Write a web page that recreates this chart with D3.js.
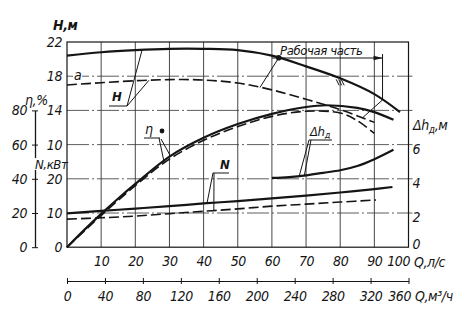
<!DOCTYPE html>
<html>
<head>
<meta charset="utf-8">
<script src="https://cdn.jsdelivr.net/npm/d3@7"></script>
<style>
  html, body { margin: 0; padding: 0; background: #fff; }
  svg text {
    font-family: "DejaVu Sans Condensed", "Liberation Sans Narrow", sans-serif;
    font-stretch: condensed;
    font-style: italic;
    letter-spacing: -0.4px;
    fill: #151515;
  }
</style>
</head>
<body>
<svg id="chart" width="467" height="329"></svg>
<script>
// Tick labels
const flowTicksLs = [10, 20, 30, 40, 50, 60, 70, 80, 90, 100];
const flowTicksM3h = [0, 40, 80, 120, 160, 200, 240, 280, 320, 360];
const headTicks = [22, 18, 14, 10];
const powerTicks = [20, 10, 0];
const effTicks = [0, 20, 40, 60, 80];
const npshTicks = [0, 2, 4, 6];

// Head H, m: full impeller (solid) and trimmed impeller "а" (dashed)
const qHead = [0, 10, 20, 30, 40, 50, 60, 70, 80, 90, 97.5];
const headFull = [20.4, 20.8, 21.05, 21.2, 21.2, 21.05, 20.4, 19.15, 17.75, 15.9, 13.8];
const qHeadTrim = [0, 10, 20, 30, 40, 50, 60, 70, 80, 90];
const headTrim = [16.97, 17.24, 17.47, 17.6, 17.55, 17.2, 16.4, 15.3, 14.1, 12.6];

// Efficiency η, %
const qEff = [0, 5, 10, 15, 20, 30, 40, 50, 60, 70, 76, 85, 90, 95.6];
const effFull = [0, 10, 19.5, 28.5, 37, 53, 64, 72, 78, 82, 83, 81.5, 79, 74.5];
const qEffTrim = [0, 10, 20, 30, 40, 50, 60, 70, 80, 85, 90];
const effTrim = [0, 18.5, 36, 51.5, 62.5, 70.5, 76.5, 79.5, 78.5, 74, 66.5];

// Power N, kW
const qPower = [0, 10, 20, 30, 40, 50, 60, 70, 80, 90, 95.3];
const powerFull = [9.9, 10.6, 11.3, 12.0, 12.8, 13.5, 14.3, 15.1, 16.0, 17.0, 17.6];
const qPowerTrim = [0, 10, 20, 30, 40, 50, 60, 70, 80, 90.5];
const powerTrim = [8.2, 8.6, 9.1, 9.8, 10.5, 11.2, 12.0, 12.6, 13.2, 13.8];

// Permissible cavitation reserve Δh, m
const qNpsh = [60, 65, 70, 75, 80, 85, 90, 95.6];
const npsh = [4.05, 4.1, 4.2, 4.35, 4.5, 4.75, 5.15, 5.7];

// Working range on both head curves and the design point, l/s
const workRangeFull = [62, 92.4];
const workRangeTrim = [56.5, 86.5];
const designFlow = 80;

const ink = "#151515";
const svg = d3.select("#chart");
const intFmt = d3.format("d");

// Scales: all vertical scales share the same grid rows
const plotLeft = 67, plotRight = 408.5, plotTop = 42, rowH = 34.2;
const plotBottom = plotTop + 6 * rowH;
const x = d3.scaleLinear().domain([0, 100]).range([plotLeft, plotRight]);
const xm = d3.scaleLinear().domain([0, 360]).range([plotLeft, plotRight]);
const yH = d3.scaleLinear().domain([22, 10]).range([plotTop, plotTop + 3 * rowH]);
const yEta = d3.scaleLinear().domain([80, 0]).range([plotTop + 2 * rowH, plotBottom]);
const yN = d3.scaleLinear().domain([20, 0]).range([plotTop + 4 * rowH, plotBottom]);
const yDh = d3.scaleLinear().domain([6, 0]).range([plotTop + 3 * rowH, plotBottom]);

// Piecewise-linear lookup along a curve
const along = (qs, vs, q) => d3.scaleLinear().domain(qs).range(vs)(q);

// Grid
const grid = svg.append("g");
grid.selectAll("line.v").data(flowTicksLs.slice(0, -1)).join("line")
  .attr("x1", d => x(d)).attr("x2", d => x(d))
  .attr("y1", plotTop).attr("y2", plotBottom)
  .attr("stroke", "#333").attr("stroke-width", 0.9);
const hRows = [yH(18), yH(14), yH(10), yN(20), yN(10)];
grid.selectAll("line.h").data(hRows).join("line")
  .attr("x1", plotLeft).attr("x2", plotRight + 4)
  .attr("y1", d => d).attr("y2", d => d)
  .attr("stroke", "#333").attr("stroke-width", 0.8)
  .attr("stroke-dasharray", "22,3,2,3");

// Frame
svg.append("rect").attr("x", plotLeft).attr("y", plotTop)
  .attr("width", plotRight - plotLeft).attr("height", plotBottom - plotTop)
  .attr("fill", "none").attr("stroke", ink).attr("stroke-width", 1.2);

// Label "а" on the 18 m row
svg.append("rect").attr("x", 73).attr("y", yH(18) - 5).attr("width", 9).attr("height", 10).attr("fill", "#fff");
svg.append("text").attr("x", 74).attr("y", yH(18) + 4).attr("font-size", 14).text("а");

const styleAxis = g => {
  g.selectAll("text").attr("font-size", 14).attr("fill", ink);
  g.selectAll("line").attr("stroke", ink);
  g.selectAll("path.domain").attr("stroke", ink);
};

// Head axis
svg.append("g").attr("transform", `translate(62,0)`)
  .call(d3.axisLeft(yH).tickValues(headTicks).tickFormat(intFmt).tickSize(0).tickPadding(0))
  .call(g => g.select(".domain").remove())
  .call(styleAxis);
// Power axis
svg.append("g").attr("transform", `translate(62,0)`)
  .call(d3.axisLeft(yN).tickValues(powerTicks).tickFormat(intFmt).tickSize(0).tickPadding(0))
  .call(g => g.select(".domain").remove())
  .call(styleAxis);
// Efficiency axis
svg.append("g").attr("transform", `translate(35,0)`)
  .call(d3.axisLeft(yEta).tickValues(effTicks).tickFormat(intFmt).tickSizeInner(3).tickSizeOuter(0).tickPadding(5))
  .call(g => g.selectAll(".tick line").attr("x1", 3))
  .call(styleAxis)
  .call(g => g.select(".domain").attr("stroke-width", 1.3));
// Δh axis
svg.append("g").attr("transform", `translate(${plotRight},0)`)
  .call(d3.axisRight(yDh).tickValues(npshTicks).tickFormat(intFmt).tickSize(0).tickPadding(4))
  .call(g => g.select(".domain").remove())
  .call(styleAxis)
  .call(g => g.selectAll(".tick text").attr("dy", d => d === 0 ? "0.1em" : "0.6em"));

// Flow axis, l/s
svg.append("g").attr("transform", `translate(0,${plotBottom})`)
  .call(d3.axisBottom(x).tickValues(flowTicksLs).tickFormat(intFmt).tickSize(0).tickPadding(9))
  .call(g => g.select(".domain").remove())
  .call(styleAxis)
  .call(g => g.selectAll(".tick text").filter(d => d === 100).attr("text-anchor", "end").attr("x", 1));
// Flow axis, m³/h
svg.append("g").attr("transform", `translate(0,281)`)
  .call(d3.axisBottom(xm).tickValues(flowTicksM3h).tickFormat(intFmt).tickSizeInner(3).tickSizeOuter(0).tickPadding(7))
  .call(g => g.selectAll(".tick line").attr("y1", -3))
  .call(styleAxis)
  .call(g => g.selectAll(".tick text").filter(d => d === 360).attr("text-anchor", "end").attr("x", 2));

// Axis titles
svg.append("text").attr("x", 53).attr("y", 30).attr("font-size", 14).attr("font-weight", "bold").text("Н,м");
svg.append("text").attr("x", 25).attr("y", 105).attr("font-size", 14).text("η,%");
svg.append("rect").attr("x", 34).attr("y", 158).attr("width", 31).attr("height", 12).attr("fill", "#fff");
svg.append("text").attr("x", 35).attr("y", 169).attr("font-size", 13).text("N,кВт");
const dhTitle = svg.append("text").attr("x", 413).attr("y", 130).attr("font-size", 14);
dhTitle.append("tspan").text("Δh");
dhTitle.append("tspan").attr("font-size", 10).attr("dy", 3).text("д");
dhTitle.append("tspan").attr("dy", -3).text(",м");
svg.append("text").attr("x", 414).attr("y", 267).attr("font-size", 14).text("Q,л/с");
svg.append("text").attr("x", 415).attr("y", 301).attr("font-size", 14).text("Q,м³/ч");

// Curves
const curves = svg.append("g").attr("fill", "none").attr("stroke", ink);
const drawCurve = (qs, vs, y, dashed) => {
  const line = d3.line().x((d, i) => x(qs[i])).y(d => y(d)).curve(d3.curveCatmullRom.alpha(0.5));
  curves.append("path").attr("d", line(vs))
    .attr("stroke-width", dashed ? 1.6 : 2.2)
    .attr("stroke-dasharray", dashed ? "10,4" : null);
};
drawCurve(qHead, headFull, yH, false);
drawCurve(qHeadTrim, headTrim, yH, true);
drawCurve(qEff, effFull, yEta, false);
drawCurve(qEffTrim, effTrim, yEta, true);
drawCurve(qPower, powerFull, yN, false);
drawCurve(qPowerTrim, powerTrim, yN, true);
drawCurve(qNpsh, npsh, yDh, false);

// Working range between the two head curves
const ann = svg.append("g").attr("stroke", ink).attr("stroke-width", 1).attr("fill", "none");
workRangeFull.forEach((q, i) => {
  ann.append("line")
    .attr("x1", x(q)).attr("y1", yH(along(qHead, headFull, q)))
    .attr("x2", x(workRangeTrim[i])).attr("y2", yH(along(qHeadTrim, headTrim, workRangeTrim[i])));
});
const dimY = 58;
ann.append("line").attr("x1", x(60)).attr("x2", x(workRangeFull[1])).attr("y1", dimY).attr("y2", dimY);
ann.append("line").attr("x1", x(workRangeFull[1])).attr("x2", x(workRangeFull[1]))
  .attr("y1", dimY - 4).attr("y2", yH(along(qHead, headFull, workRangeFull[1])));
svg.append("path")
  .attr("d", `M${x(workRangeFull[1])},${dimY} l-9,-2.2 l0,4.4 z`).attr("fill", ink);
svg.append("circle").attr("cx", x(workRangeFull[0])).attr("cy", yH(along(qHead, headFull, workRangeFull[0])))
  .attr("r", 2.8).attr("fill", ink);
svg.append("text").attr("x", 280).attr("y", 55).attr("font-size", 13).text("Рабочая часть");

// Design point hatch
const dpx = x(designFlow), dpy = yH(along(qHead, headFull, designFlow));
[0, 1, 2].forEach(i => {
  ann.append("line").attr("x1", dpx - 4 + i * 2.5).attr("y1", dpy + 1)
    .attr("x2", dpx - 1 + i * 2.5).attr("y2", dpy + 7);
});

// Curve labels with leaders
const leader = (lx, ly, pts) => pts.forEach(p =>
  ann.append("line").attr("x1", lx).attr("y1", ly).attr("x2", p[0]).attr("y2", p[1]));

svg.append("text").attr("x", 112).attr("y", 101).attr("font-size", 13).attr("font-weight", "bold").text("H");
ann.append("line").attr("x1", 109).attr("x2", 127).attr("y1", 106).attr("y2", 106);
leader(127, 106, [[x(22), yH(along(qHead, headFull, 22))], [x(24), yH(along(qHeadTrim, headTrim, 24))]]);

svg.append("text").attr("x", 145).attr("y", 134).attr("font-size", 14).text("η");
svg.append("circle").attr("cx", 162).attr("cy", 131).attr("r", 2.4).attr("fill", ink);
ann.append("line").attr("x1", 144).attr("x2", 160).attr("y1", 138).attr("y2", 138);
leader(159, 138, [[x(28.5), yEta(along(qEffTrim, effTrim, 28.5))]]);
leader(161, 139, [[x(30.3), yEta(along(qEff, effFull, 30.3))]]);

svg.append("text").attr("x", 220).attr("y", 169).attr("font-size", 13).attr("font-weight", "bold").text("N");
ann.append("line").attr("x1", 213).attr("x2", 229).attr("y1", 173).attr("y2", 173);
leader(213, 173, [[x(41), yN(along(qPower, powerFull, 41))]]);
leader(214, 173, [[x(43), yN(along(qPowerTrim, powerTrim, 43))]]);

const dhLabel = svg.append("text").attr("x", 310).attr("y", 136).attr("font-size", 13);
dhLabel.append("tspan").text("Δh");
dhLabel.append("tspan").attr("font-size", 9).attr("dy", 2).text("д");
ann.append("line").attr("x1", 309).attr("x2", 332).attr("y1", 140).attr("y2", 140);
leader(309, 140, [[x(68), yDh(along(qNpsh, npsh, 68))]]);
leader(311, 140, [[x(69.5), yDh(along(qNpsh, npsh, 69.5))]]);
</script>
</body>
</html>
